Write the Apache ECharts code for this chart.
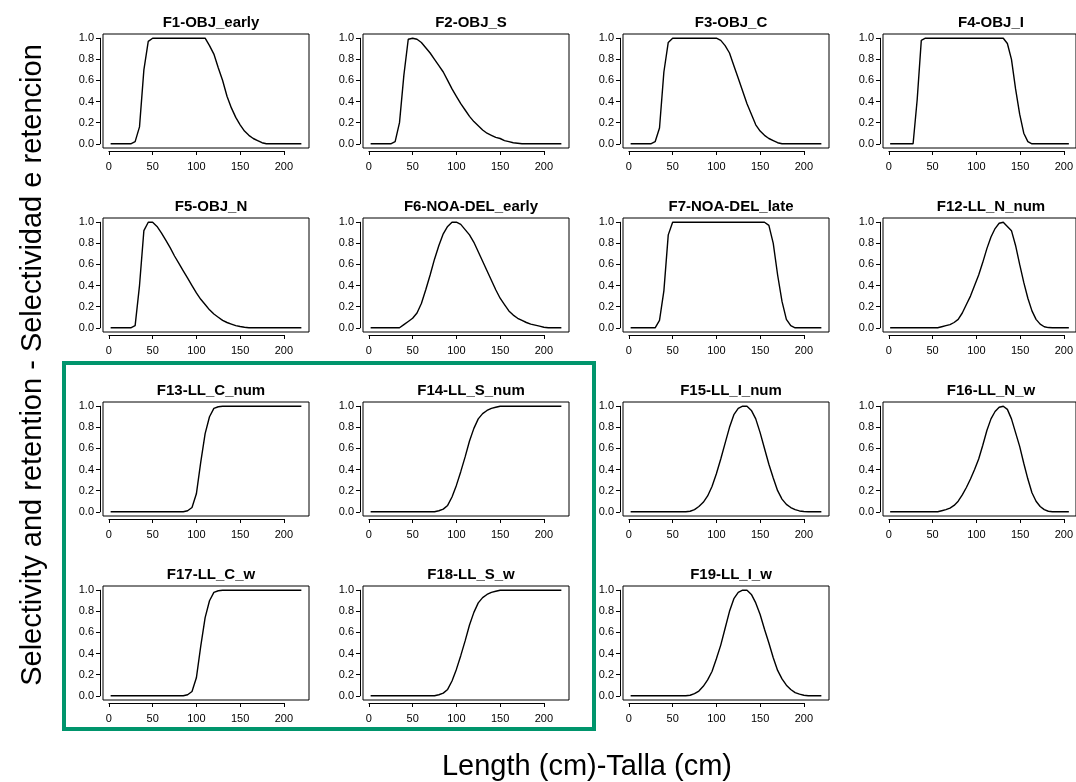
<!DOCTYPE html>
<html>
<head>
<meta charset="UTF-8">
<title>Selectivity and retention</title>
<script src="https://cdn.jsdelivr.net/npm/echarts@6/dist/echarts.min.js"></script>
</head>
<body style="margin:0; background:#fff">
<div id="container" style="width:1076px; height:782px"></div>
<script>
// length bins (cm)
var lengths = [2, 5, 10, 15, 20, 25, 30, 35, 40, 45, 50, 55, 60, 65, 70, 75, 80, 85, 90, 95,
    100, 105, 110, 115, 120, 125, 130, 135, 140, 145, 150, 155, 160, 165, 170, 175, 180, 185, 190, 195,
    200, 205, 210, 215, 220];

// selectivity by fleet, one value per length bin
var F1 = [0, 0, 0, 0, 0, 0, 0.02, 0.16, 0.7, 0.97,
    1, 1, 1, 1, 1, 1, 1, 1, 1, 1, 1, 1, 1,
    0.93, 0.85, 0.72, 0.6, 0.45, 0.34, 0.25, 0.18, 0.12, 0.08, 0.05, 0.03, 0.01,
    0, 0, 0, 0, 0, 0, 0, 0, 0];
var F2 = [0, 0, 0, 0, 0, 0, 0.02, 0.2, 0.65, 0.99,
    1, 0.99, 0.96, 0.91, 0.86, 0.8, 0.74, 0.68, 0.6, 0.52,
    0.45, 0.38, 0.32, 0.26, 0.21, 0.17, 0.13, 0.1, 0.08, 0.06,
    0.05, 0.03, 0.02, 0.01, 0.005,
    0, 0, 0, 0, 0, 0, 0, 0, 0, 0];
var F3 = [0, 0, 0, 0, 0, 0, 0.02, 0.15, 0.68, 0.96,
    1, 1, 1, 1, 1, 1, 1, 1, 1, 1, 1,
    0.98, 0.93, 0.86, 0.74, 0.62, 0.5, 0.38, 0.28, 0.18, 0.12, 0.08, 0.05, 0.03, 0.01,
    0, 0, 0, 0, 0, 0, 0, 0, 0, 0];
var F4 = [0, 0, 0, 0, 0, 0, 0, 0.42, 0.98, 1,
    1, 1, 1, 1, 1, 1, 1, 1, 1, 1, 1, 1, 1, 1, 1, 1, 1, 1, 1,
    0.95, 0.8, 0.52, 0.28, 0.1, 0.02,
    0, 0, 0, 0, 0, 0, 0, 0, 0, 0];
var F5 = [0, 0, 0, 0, 0, 0, 0.02, 0.4, 0.92, 1,
    1, 0.96, 0.9, 0.83, 0.76, 0.68, 0.61, 0.54, 0.47, 0.4, 0.33,
    0.27, 0.22, 0.17, 0.13, 0.1, 0.07, 0.05, 0.035, 0.02, 0.012, 0.005,
    0, 0, 0, 0, 0, 0, 0, 0, 0, 0, 0, 0, 0];
var F6 = [0, 0, 0, 0, 0, 0, 0, 0,
    0.03, 0.06, 0.09, 0.14, 0.23, 0.36, 0.5, 0.65, 0.78, 0.89, 0.96, 1, 1,
    0.98, 0.93, 0.88, 0.81, 0.72, 0.63, 0.54, 0.45, 0.36, 0.28, 0.22, 0.16, 0.12,
    0.09, 0.07, 0.05, 0.035, 0.025, 0.015, 0.005,
    0, 0, 0, 0];
var F7 = [0, 0, 0, 0, 0, 0, 0, 0.07, 0.35, 0.88,
    1, 1, 1, 1, 1, 1, 1, 1, 1, 1, 1, 1, 1, 1, 1, 1, 1, 1, 1, 1, 1, 1,
    0.97, 0.8, 0.5, 0.25, 0.08, 0.02,
    0, 0, 0, 0, 0, 0, 0];
var F12 = [0, 0, 0, 0, 0, 0, 0, 0, 0, 0, 0, 0, 0,
    0.01, 0.02, 0.03, 0.05, 0.08, 0.14, 0.22, 0.3, 0.4, 0.5, 0.62, 0.75, 0.86, 0.94, 0.99, 1,
    0.96, 0.92, 0.78, 0.6, 0.43, 0.28, 0.16, 0.08, 0.035, 0.01, 0.002,
    0, 0, 0, 0, 0];
var F13 = [0, 0, 0, 0, 0, 0, 0, 0, 0, 0, 0, 0, 0, 0, 0, 0, 0, 0,
    0.01, 0.04, 0.17, 0.47, 0.74, 0.9, 0.98, 0.995,
    1, 1, 1, 1, 1, 1, 1, 1, 1, 1, 1, 1, 1, 1, 1, 1, 1, 1, 1];
var F14 = [0, 0, 0, 0, 0, 0, 0, 0, 0, 0, 0, 0, 0, 0, 0, 0,
    0.01, 0.025, 0.06, 0.14, 0.25, 0.38, 0.52, 0.67, 0.79, 0.88, 0.93, 0.96, 0.98, 0.99,
    1, 1, 1, 1, 1, 1, 1, 1, 1, 1, 1, 1, 1, 1, 1];
var F15 = [0, 0, 0, 0, 0, 0, 0, 0, 0, 0, 0, 0, 0, 0,
    0.005, 0.02, 0.05, 0.09, 0.15, 0.24, 0.36, 0.5, 0.65, 0.8, 0.92, 0.98, 1, 1,
    0.96, 0.88, 0.75, 0.6, 0.45, 0.32, 0.2, 0.12, 0.07, 0.04, 0.02, 0.008, 0.003,
    0, 0, 0, 0];
var F16 = [0, 0, 0, 0, 0, 0, 0, 0, 0, 0, 0, 0, 0,
    0.01, 0.02, 0.035, 0.06, 0.1, 0.16, 0.23, 0.31, 0.4, 0.5, 0.63, 0.77, 0.88, 0.95, 0.99, 1,
    0.97, 0.88, 0.75, 0.62, 0.46, 0.31, 0.18, 0.1, 0.05, 0.02, 0.005,
    0, 0, 0, 0, 0];
var F17 = [0, 0, 0, 0, 0, 0, 0, 0, 0, 0, 0, 0, 0, 0, 0, 0, 0, 0,
    0.01, 0.04, 0.17, 0.47, 0.74, 0.9, 0.98, 0.995,
    1, 1, 1, 1, 1, 1, 1, 1, 1, 1, 1, 1, 1, 1, 1, 1, 1, 1, 1];
var F18 = [0, 0, 0, 0, 0, 0, 0, 0, 0, 0, 0, 0, 0, 0, 0, 0,
    0.01, 0.025, 0.06, 0.14, 0.25, 0.38, 0.52, 0.67, 0.79, 0.88, 0.93, 0.96, 0.98, 0.99,
    1, 1, 1, 1, 1, 1, 1, 1, 1, 1, 1, 1, 1, 1, 1];
var F19 = [0, 0, 0, 0, 0, 0, 0, 0, 0, 0, 0, 0, 0, 0,
    0.005, 0.02, 0.045, 0.09, 0.15, 0.23, 0.35, 0.48, 0.64, 0.8, 0.92, 0.98, 1, 1,
    0.96, 0.88, 0.77, 0.63, 0.5, 0.36, 0.24, 0.16, 0.1, 0.06, 0.03, 0.015, 0.005,
    0, 0, 0, 0];

var panelNames = ['F1-OBJ_early', 'F2-OBJ_S', 'F3-OBJ_C', 'F4-OBJ_I',
    'F5-OBJ_N', 'F6-NOA-DEL_early', 'F7-NOA-DEL_late', 'F12-LL_N_num',
    'F13-LL_C_num', 'F14-LL_S_num', 'F15-LL_I_num', 'F16-LL_N_w',
    'F17-LL_C_w', 'F18-LL_S_w', 'F19-LL_I_w'];
var panelValues = [F1, F2, F3, F4, F5, F6, F7, F12, F13, F14, F15, F16, F17, F18, F19];

var xTicks = [0, 50, 100, 150, 200];
var yTicks = [0, 0.2, 0.4, 0.6, 0.8, 1];

var chart = echarts.init(document.getElementById('container'));

var FONT = '"Liberation Sans", Arial, sans-serif';
var BOX_L0 = 103, COL_STEP = 260, BOX_W = 206;
var BOX_T0 = 34, ROW_STEP = 184, BOX_H = 114;
// R style axis range: data range padded by 4% on each side
var XMIN = -6.72, XMAX = 228.72, YMIN = -0.04, YMAX = 1.04;

var grid = [], xAxis = [], yAxis = [], series = [], title = [];

panelNames.forEach(function (name, i) {
    var L = BOX_L0 + COL_STEP * (i % 4);
    var T = BOX_T0 + ROW_STEP * Math.floor(i / 4);
    var kx = BOX_W / (XMAX - XMIN), ky = BOX_H / (YMAX - YMIN);
    var x0 = L + (xTicks[0] - XMIN) * kx;
    var x1 = L + (xTicks[xTicks.length - 1] - XMIN) * kx;
    var y1 = T + (YMAX - yTicks[yTicks.length - 1]) * ky;
    var y0 = T + (YMAX - yTicks[0]) * ky;

    // plot box
    grid.push({left: L, top: T, width: BOX_W, height: BOX_H, show: true,
        borderColor: '#000', borderWidth: 1, backgroundColor: 'transparent'});
    xAxis.push({gridIndex: 2 * i, type: 'value', min: XMIN, max: XMAX, show: false});
    yAxis.push({gridIndex: 2 * i, type: 'value', min: YMIN, max: YMAX, show: false});

    // axes drawn only over the tick range, a bit away from the box
    grid.push({left: x0, top: y1, width: x1 - x0, height: y0 - y1});
    xAxis.push({
        gridIndex: 2 * i + 1, type: 'value', min: 0, max: 200, interval: 50,
        offset: T + BOX_H + 3 - y0,
        axisLine: {show: true, onZero: false, lineStyle: {color: '#000', width: 1}},
        axisTick: {show: true, length: 4, lineStyle: {color: '#000'}},
        splitLine: {show: false},
        axisLabel: {color: '#000', fontSize: 11, fontFamily: FONT, margin: 10}
    });
    yAxis.push({
        gridIndex: 2 * i + 1, type: 'value', min: 0, max: 1, interval: 0.2,
        offset: x0 - (L - 3),
        axisLine: {show: true, onZero: false, lineStyle: {color: '#000', width: 1}},
        axisTick: {show: true, length: 4, lineStyle: {color: '#000'}},
        splitLine: {show: false},
        axisLabel: {color: '#000', fontSize: 11, fontFamily: FONT, margin: 6,
            formatter: function (v) { return v.toFixed(1); }}
    });

    var vals = panelValues[i];
    series.push({
        type: 'line', xAxisIndex: 2 * i, yAxisIndex: 2 * i,
        data: lengths.map(function (x, j) { return [x, vals[j]]; }),
        showSymbol: false, silent: true,
        lineStyle: {color: '#000', width: 1.4}
    });

    title.push({
        text: name, left: L + BOX_W / 2, top: T - 24, textAlign: 'center',
        textStyle: {fontSize: 15, fontWeight: 'bold', fontFamily: FONT, color: '#000'}
    });
});

option = {
    backgroundColor: '#fff',
    animation: false,
    title: title,
    grid: grid,
    xAxis: xAxis,
    yAxis: yAxis,
    series: series,
    graphic: [
        {type: 'rect', shape: {x: 64, y: 363, width: 530, height: 366},
            style: {fill: 'none', stroke: '#00956c', lineWidth: 4}},
        {type: 'text', x: 33, y: 365, rotation: Math.PI / 2,
            style: {text: 'Selectivity and retention - Selectividad e retencion',
                fontSize: 29, fontFamily: FONT, fill: '#000', align: 'center', verticalAlign: 'middle'}},
        {type: 'text', x: 587, y: 767,
            style: {text: 'Length (cm)-Talla (cm)',
                fontSize: 29, fontFamily: FONT, fill: '#000', align: 'center', verticalAlign: 'middle'}}
    ]
};

chart.setOption(option);
</script>
</body>
</html>
